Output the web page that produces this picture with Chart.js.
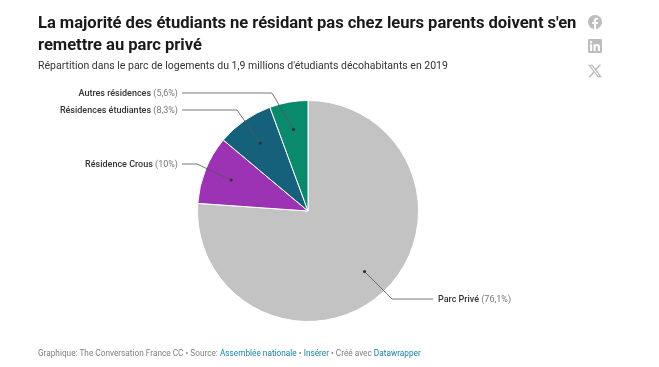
<!DOCTYPE html>
<html><head><meta charset="utf-8">
<script src="https://cdn.jsdelivr.net/npm/chart.js@4"></script>
<style>
html,body{margin:0;padding:0;background:#fff;font-family:Roboto,sans-serif;overflow:hidden}
#wrap{position:relative;width:659px;height:367px}
#c{position:absolute;left:0;top:0}
.t{position:absolute;white-space:nowrap}
#title{left:38px;top:12px;font-size:16.6px;line-height:22px;font-weight:700;color:#1a1a1a;letter-spacing:-.04px}
#sub{left:38px;top:59px;font-size:10.5px;line-height:14px;color:#333}
#foot{left:38px;top:347px;font-size:8.25px;line-height:12px;color:#808080}
#foot a{color:#1d81a2;text-decoration:none}
svg.i{position:absolute;left:588px;width:14px;height:14px;fill:#bdbdbd}
</style></head><body>
<div id="wrap">
<canvas id="c" width="659" height="367"></canvas>
<div class="t" id="title">La majorité des étudiants ne résidant pas chez leurs parents doivent s'en<br>remettre au parc privé</div>
<div class="t" id="sub">Répartition dans le parc de logements du 1,9 millions d'étudiants décohabitants en 2019</div>
<div class="t" id="foot">Graphique: The Conversation France CC • Source: <a>Assemblée nationale</a> • <a>Insérer</a> • Créé avec <a>Datawrapper</a></div>
<svg class="i" style="top:15px" viewBox="0 0 24 24"><path d="M24 12.07C24 5.4 18.63 0 12 0S0 5.4 0 12.07C0 18.1 4.39 23.1 10.13 24v-8.44H7.08v-3.49h3.05V9.41c0-3.02 1.79-4.69 4.53-4.69 1.31 0 2.69.24 2.69.24v2.97h-1.52c-1.49 0-1.96.93-1.96 1.89v2.25h3.33l-.53 3.49h-2.8V24C19.61 23.1 24 18.1 24 12.07z"/></svg>
<svg class="i" style="top:39px" viewBox="0 0 24 24"><path d="M22 0H2C.9 0 0 .9 0 2v20c0 1.1.9 2 2 2h20c1.100 0 2-.9 2-2V2c0-1.100-.9-2-2-2zM7.100 20.500H3.600V9h3.500v11.500zM5.300 7.400c-1.100 0-2-.9-2-2.100 0-1.100.9-2 2-2s2.100.9 2.100 2c0 1.200-1 2.100-2.100 2.100zm15.200 13.100h-3.600v-5.600c0-1.300 0-3-1.800-3s-2.100 1.400-2.100 2.900v5.700h-3.500V9h3.400v1.600c.5-.9 1.600-1.900 3.400-1.900 3.600 0 4.200 2.400 4.200 5.500v6.300z"/></svg>
<svg class="i" style="top:64px" viewBox="0 0 24 24"><path d="M18.900 1.200h3.700l-8 9.200L24 22.800h-7.400l-5.800-7.600-6.600 7.600H.5l8.600-9.800L0 1.200h7.600l5.200 6.900 6.100-6.900zm-1.300 19.400h2L6.500 3.300H4.300l13.300 17.300z" fill-rule="evenodd"/></svg>
</div>
<script>
const categories = ["Parc Privé", "Résidence Crous", "Résidences étudiantes", "Autres résidences"];
const values = [76.1, 10, 8.3, 5.6];
const valueLabels = ["76,1%", "10%", "8,3%", "5,6%"];
const colors = ["#c3c3c3", "#9c33b5", "#15607a", "#0a8a6c"];
// leader-line layout: elbow point and end of the horizontal run
const elbows = [[392,299],[197,164],[237,110],[272,93]];
const lineEnds = [433,182,182,182];

const leaders = {
  id:'leaders',
  afterDatasetsDraw(chart){
    const g = chart.ctx;
    const arcs = chart.getDatasetMeta(0).data;
    arcs.forEach((a,i)=>{
      const mid=(a.startAngle+a.endAngle)/2, r=a.outerRadius*0.75;
      const px=a.x+Math.cos(mid)*r, py=a.y+Math.sin(mid)*r;
      const [ex,ey]=elbows[i], lx=lineEnds[i];
      g.save();
      g.strokeStyle='#555'; g.lineWidth=0.8;
      g.beginPath(); g.moveTo(px,py); g.lineTo(ex,ey); g.lineTo(lx,ey); g.stroke();
      g.fillStyle='#333'; g.beginPath(); g.arc(px,py,1.6,0,Math.PI*2); g.fill();
      const name=categories[i], val=' ('+valueLabels[i]+')';
      const f1='500 9px Roboto', f2='400 9px Roboto';
      g.textBaseline='middle';
      g.font=f1; const w1=g.measureText(name).width;
      g.font=f2; const w2=g.measureText(val).width;
      const x0 = lx>300 ? lx+5 : lx-4-w1-w2;
      g.textAlign='left';
      g.font=f1; g.fillStyle='#333'; g.fillText(name,x0,ey+1);
      g.font=f2; g.fillStyle='#777'; g.fillText(val,x0+w1,ey+1);
      g.restore();
    });
  }
};

new Chart(document.getElementById('c'),{
  type:'pie',
  data:{labels:categories,datasets:[{data:values,backgroundColor:colors,borderColor:'#ffffff',borderWidth:1,hoverOffset:0}]},
  options:{
    responsive:false,animation:false,events:[],
    layout:{padding:{left:197,right:240,top:100,bottom:45}},
    plugins:{legend:{display:false},tooltip:{enabled:false},title:{display:false}}
  },
  plugins:[leaders]
});
</script>
</body></html>
